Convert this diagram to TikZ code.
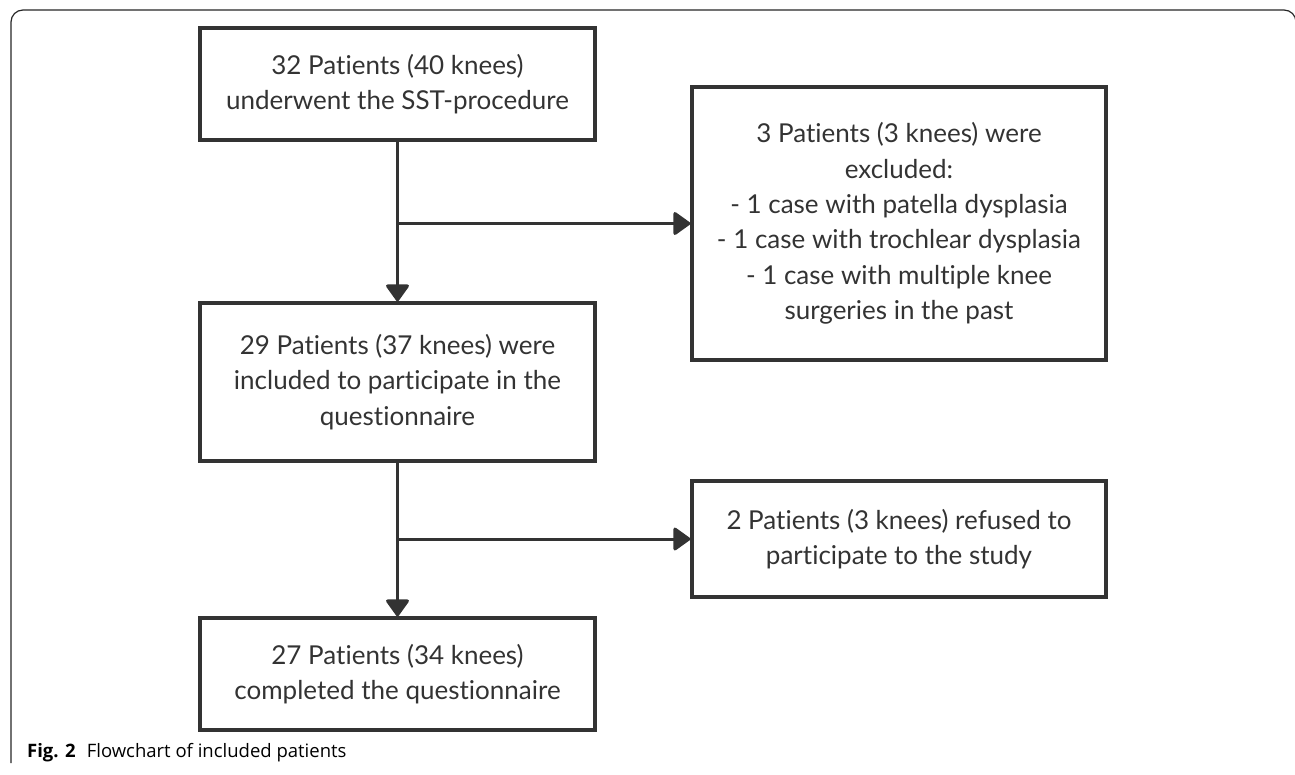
\documentclass[tikz,border=0pt]{standalone}
\usepackage{fontspec}
\setmainfont[RawFeature={-liga;-dlig;-clig;-calt}]{Lato}
\newfontfamily\capfont{Open Sans}
\usetikzlibrary{arrows.meta}
\definecolor{ink}{HTML}{333333}
\newcommand\nolig{\kern0pt}
\begin{document}
\begin{tikzpicture}[x=1pt,y=-1pt,
  box/.style={draw=ink, line width=3.3pt, rectangle, align=center, text=ink,
    font=\fontsize{26}{35.4}\selectfont, inner sep=0pt},
  flow/.style={draw=ink, line width=3pt, -{Triangle[length=18pt,width=25pt,round]}}]
\useasboundingbox (0,0) rectangle (1295,774);
% outer frame
\begin{scope}
\clip (0,0) rectangle (1295,774);
\draw[line width=1.2pt, color=black!85, rounded corners=12pt] (11,763) -- (11,10) -- (1296,10) -- (1296,774);
\end{scope}
% boxes
\node[box, minimum width=395pt, minimum height=112pt] (b1) at (397.5,84) {32 Pat\nolig ients (40 knees)\\underwent the SST-procedure};
\node[box, minimum width=414pt, minimum height=273pt] (b2) at (899,223.5) {3 Pat\nolig ients (3 knees) were\\excluded:\\- 1 case with patella dysplasia\\- 1 case with trochlear dysplasia\\- 1 case with mult\nolig iple knee\\surgeries in the past};
\node[box, minimum width=395pt, minimum height=158pt] (b3) at (397.5,382) {29 Pat\nolig ients (37 knees) were\\included to part\nolig icipate in the\\quest\nolig ionnaire};
\node[box, minimum width=414pt, minimum height=116pt] (b4) at (899,539) {2 Pat\nolig ients (3 knees) refused to\\part\nolig icipate to the study};
\node[box, minimum width=395pt, minimum height=112pt] (b5) at (397.5,674) {27 Pat\nolig ients (34 knees)\\completed the quest\nolig ionnaire};
% connectors
\coordinate (j1) at (b1.south |- b2.west);
\coordinate (j2) at (b3.south |- b4.west);
\draw[flow] (b1.south) -- (b3.north);
\draw[flow] (j1) -- (b2.west);
\draw[flow] (b3.south) -- (b5.north);
\draw[flow] (j2) -- (b4.west);
% caption
\node[anchor=base west, inner sep=0pt, font=\capfont\fontsize{18.5}{22}\selectfont] (cap) at (27,757) {\textbf{Fig. 2}\hspace{0.6em}Flowchart of included patients};
\end{tikzpicture}
\end{document}
